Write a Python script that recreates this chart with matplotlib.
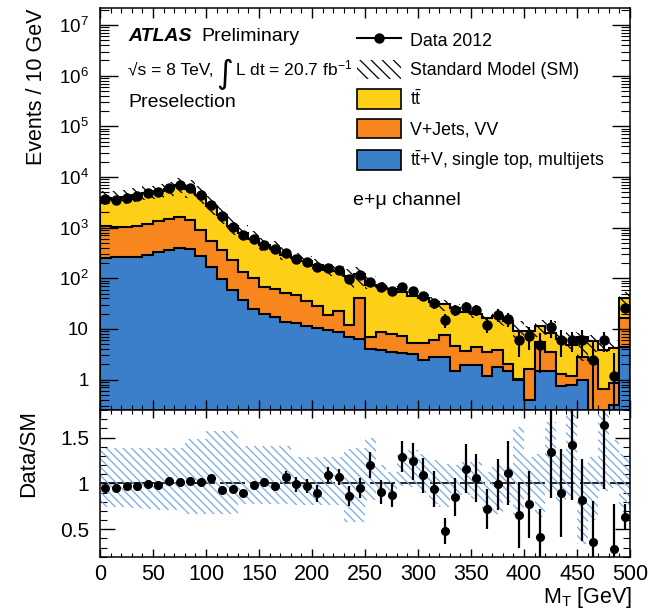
import numpy as np
import matplotlib
matplotlib.use('Agg')
import matplotlib.pyplot as plt
from matplotlib.ticker import MultipleLocator, LogLocator, FuncFormatter, NullFormatter
from matplotlib.patches import Patch
from matplotlib.lines import Line2D

plt.rcParams['font.family'] = ['Liberation Sans', 'DejaVu Sans']
plt.rcParams['mathtext.fontset'] = 'custom'
plt.rcParams['mathtext.rm'] = 'Liberation Sans'
plt.rcParams['mathtext.it'] = 'Liberation Sans:italic'
plt.rcParams['mathtext.bf'] = 'Liberation Sans:bold'
plt.rcParams['hatch.linewidth'] = 0.9

# 10 GeV bins of M_T, 0-500 GeV (last bin includes overflow)
bin_edges = np.arange(0, 510, 10)

# background components (events per bin)
other_bkg = [250, 258, 260, 265, 290, 330, 370, 400, 375, 275,
             168, 97, 60, 37, 25, 20, 17, 14, 13, 11.5,
             10.5, 9.5, 8.7, 7, 6.4, 4, 3.8, 3.5, 3.3, 3.2,
             2.4, 2.8, 2.75, 1.5, 1.9, 1.9, 1.2, 1.8, 1.5, 1.0,
             0.4, 1.5, 1.5, 0.75, 0.8, 1.0, 0.01, 0.01, 0.32, 4.4]
vjets_vv = [820, 792, 790, 805, 890, 1050, 1110, 1200, 1045, 625,
            382, 263, 170, 98, 75, 48, 44, 37, 33, 23.5,
            17.5, 9.5, 14.3, 5, 33.6, 3, 4.9, 4.5, 4, 2.2,
            3, 3.3, 4.75, 3.1, 1.7, 2.6, 2.3, 2.1, 0.5, 0.05,
            1.2, 4.0, 2.0, 0.55, 0.4, 1.75, 2.4, 0.64, 0.55, 12.2]
ttbar = [2730, 2670, 2950, 3280, 3670, 3870, 4370, 5200, 4430, 3500,
         2100, 1390, 850, 665, 500, 382, 324, 239, 204, 180,
         157, 129, 114, 100, 80, 68, 63, 54, 46, 40,
         35, 28, 23.5, 21.4, 18.4, 15.5, 13, 14.1, 12.3, 8,
         7.4, 5.7, 5.0, 4.9, 3.6, 4.25, 3.4, 3.15, 3.33, 24.4]

# data 2012
data = [3630, 3530, 3900, 4240, 4790, 5150, 6000, 6970, 6000, 4440,
        2800, 1660, 1020, 720, 590, 455, 375, 310, 245, 210,
        170, 158, 145, 97, 115, 86, 68, 55, 68, 55,
        44, 32, 15, 24, 27, 24, 12, 19, 16, 6.1,
        7.4, 4.8, 10.7, 6.1, 6.1, 6.1, 2.45, 6.1, 1.2, 26]

# Data/SM and its uncertainty
ratio = [0.95, 0.95, 0.97, 0.97, 0.99, 0.98, 1.03, 1.02, 1.03, 1.01,
         1.06, 0.93, 0.94, 0.89, 0.98, 1.01, 0.97, 1.07, 0.99, 0.97,
         0.89, 1.09, 1.07, 0.86, 0.95, 1.2, 0.91, 0.87, 1.29, 1.24,
         1.09, 0.94, 0.48, 0.85, 1.16, 1.06, 0.72, 0.99, 1.11, 0.66,
         0.77, 0.42, 1.34, 0.89, 1.42, 0.82, 0.36, 1.64, 0.28, 0.63]
ratio_err = [0.02, 0.02, 0.02, 0.02, 0.02, 0.02, 0.02, 0.02, 0.02, 0.02,
             0.03, 0.03, 0.03, 0.04, 0.04, 0.05, 0.05, 0.07, 0.08, 0.08,
             0.09, 0.09, 0.09, 0.11, 0.11, 0.14, 0.13, 0.13, 0.17, 0.2,
             0.19, 0.2, 0.14, 0.21, 0.27, 0.26, 0.22, 0.28, 0.35, 0.36,
             0.37, 0.3, 0.5, 0.48, 0.6, 0.45, 0.45, 0.7, 0.5, 0.14]

# SM uncertainty band (relative to SM)
band_hi = [1.39, 1.39, 1.39, 1.39, 1.39, 1.39, 1.39, 1.39, 1.48, 1.48,
           1.57, 1.57, 1.57, 1.41, 1.41, 1.41, 1.41, 1.41, 1.29, 1.29,
           1.29, 1.29, 1.29, 1.38, 1.39, 1.5, 1.2, 1.12, 1.35, 1.36,
           1.32, 1.25, 1.21, 1.2, 1.23, 1.23, 1.12, 1.2, 1.18, 1.61,
           1.29, 1.32, 1.67, 1.32, 1.79, 1.2, 1.29, 1.83, 1.47, 1.32]
band_lo = [0.74, 0.74, 0.74, 0.73, 0.72, 0.71, 0.71, 0.71, 0.67, 0.67,
           0.67, 0.67, 0.67, 0.78, 0.78, 0.78, 0.78, 0.78, 0.76, 0.76,
           0.76, 0.76, 0.76, 0.58, 0.58, 0.82, 0.91, 0.92, 0.97, 0.96,
           0.89, 0.78, 0.74, 0.9, 0.87, 0.83, 0.71, 0.67, 0.8, 0.63,
           0.85, 0.63, 0.89, 0.8, 0.85, 0.34, 0.6, 0.92, 0.95, 0.74]

col_tt = '#FDCF16'
col_vj = '#F7861E'
col_oth = '#3B7FCB'
col_band = '#74A8EE'

edges = bin_edges
centers = edges[:-1] + 5
stack1 = np.array(other_bkg)
stack2 = stack1 + np.array(vjets_vv)
stack3 = stack2 + np.array(ttbar)
data = np.array(data)
ratio = np.array(ratio)
ratio_err = np.array(ratio_err)
band_hi = np.array(band_hi)
band_lo = np.array(band_lo)

fig = plt.figure(figsize=(6.67, 6.10), dpi=100)
W, H = 667.0, 610.0
ax = fig.add_axes([100 / W, 1 - 410 / H, 530 / W, (410 - 8.3) / H])
ax2 = fig.add_axes([100 / W, 1 - 556.7 / H, 530 / W, (556.7 - 410) / H], sharex=ax)

# main panel stack
base = 1e-3
ax.stairs(stack3, edges, baseline=base, fill=True, facecolor=col_tt, edgecolor='black', lw=1.5)
ax.stairs(stack2, edges, baseline=base, fill=True, facecolor=col_vj, edgecolor='black', lw=1.5)
ax.stairs(stack1, edges, baseline=base, fill=True, facecolor=col_oth, edgecolor='black', lw=1.5)
ax.stairs(stack3 * band_hi, edges, baseline=stack3 * band_lo, fill=True, facecolor='none',
          edgecolor='black', hatch='\\\\\\', lw=0)

rel = ratio_err / ratio
err_hi = data * rel
err_lo = np.minimum(data * rel, data * 0.999)
ax.errorbar(centers, data, yerr=[err_lo, err_hi], fmt='o', color='black', ms=6.5,
            elinewidth=1.5, capsize=0, zorder=5)

ax.set_yscale('log')
ax.set_xlim(0, 500)
ax.set_ylim(10 ** -0.6, 10 ** 7.33)

def log_fmt(v, pos):
    e = int(round(np.log10(v)))
    if e == 0:
        return '1'
    if e == 1:
        return '10'
    return '$10^{%d}$' % e

ax.yaxis.set_major_locator(LogLocator(base=10, numticks=20))
ax.yaxis.set_minor_locator(LogLocator(base=10, subs=np.arange(2, 10), numticks=20))
ax.yaxis.set_major_formatter(FuncFormatter(log_fmt))
ax.yaxis.set_minor_formatter(NullFormatter())
ax.xaxis.set_major_locator(MultipleLocator(50))
ax.xaxis.set_minor_locator(MultipleLocator(10))
ax.tick_params(which='both', direction='in', top=True, right=True, labelbottom=False)
ax.tick_params(axis='y', which='major', length=13, width=1, labelsize=13.5, pad=8)
ax.tick_params(axis='y', which='minor', length=6.5, width=0.8)
ax.tick_params(axis='x', which='major', length=7, width=1)
ax.tick_params(axis='x', which='minor', length=3.5, width=0.8)
for s in ax.spines.values():
    s.set_linewidth(1.1)

ax.set_ylabel('Events / 10 GeV', fontsize=15.5, loc='top')
ax.yaxis.set_label_coords(-0.1, 1.0)

# legend
handles = [
    Line2D([], [], color='black', marker='o', ms=6.5, lw=1.5),
    Patch(facecolor='none', edgecolor='black', hatch='\\\\\\', lw=0),
    Patch(facecolor=col_tt, edgecolor='black', lw=1.2),
    Patch(facecolor=col_vj, edgecolor='black', lw=1.2),
    Patch(facecolor=col_oth, edgecolor='black', lw=1.2),
]
labels = ['Data 2012', 'Standard Model (SM)', r'$\mathrm{t\bar{t}}$', 'V+Jets, VV',
          r'$\mathrm{t\bar{t}}$+V, single top, multijets']
ax.legend(handles, labels, loc='upper left', bbox_to_anchor=(357 / W, 1 - 30 / H),
          bbox_transform=fig.transFigure, frameon=False, fontsize=12.8, numpoints=1,
          handlelength=2.5, handleheight=1.3, handletextpad=0.5, labelspacing=0.56,
          borderpad=0, borderaxespad=0)
fig.text(353 / W, 1 - 205 / H, 'e+\u03bc channel', fontsize=14, va='baseline')

# ATLAS label
fig.text(128 / W, 1 - 40.7 / H, 'ATLAS', fontsize=14, weight='bold', style='italic', va='baseline')
fig.text(201 / W, 1 - 40.7 / H, 'Preliminary', fontsize=14, va='baseline')
fig.text(128 / W, 1 - 75 / H, '\u221as = 8 TeV,', fontsize=12.5, va='baseline')
fig.text(216 / W, 1 - 83 / H, '\u222b', fontsize=23, va='baseline', family=['DejaVu Sans'])
fig.text(235 / W, 1 - 75 / H, 'L dt = 20.7 fb$^{-1}$', fontsize=12.5, va='baseline')
fig.text(128 / W, 1 - 106.7 / H, 'Preselection', fontsize=14, va='baseline')

# ratio panel
ax2.axhline(1, color='black', lw=1.2, dashes=(15, 3), zorder=1)
ax2.stairs(band_hi, edges, baseline=band_lo, fill=True, facecolor='none',
           edgecolor=col_band, hatch='\\\\\\\\', lw=0, zorder=2)
ax2.errorbar(centers, ratio, yerr=ratio_err, fmt='o', color='black', ms=5.5,
             elinewidth=1.6, capsize=0, zorder=5)
ax2.set_ylim(0.2, 1.8)
ax2.yaxis.set_major_locator(MultipleLocator(0.5))
ax2.yaxis.set_minor_locator(MultipleLocator(0.1))
ax2.yaxis.set_major_formatter(FuncFormatter(lambda v, p: '%g' % v))
ax2.tick_params(which='both', direction='in', top=True, right=True)
ax2.tick_params(axis='y', which='major', length=11, width=1, labelsize=15, pad=8)
ax2.tick_params(axis='y', which='minor', length=5, width=0.8)
ax2.tick_params(axis='x', which='major', length=6, width=1, labelsize=15.5, pad=5)
ax2.tick_params(axis='x', which='minor', length=3, width=0.8)
for s in ax2.spines.values():
    s.set_linewidth(1.1)

ax2.set_ylabel('Data/SM', fontsize=16, loc='top')
ax2.yaxis.set_label_coords(-0.115, 1.0)
ax2.set_xlabel(r'M$_{\mathrm{T}}$ [GeV]', fontsize=15.5, loc='right')
ax2.xaxis.set_label_coords(1.005, -0.19)

fig.savefig('out.png', dpi=100)
